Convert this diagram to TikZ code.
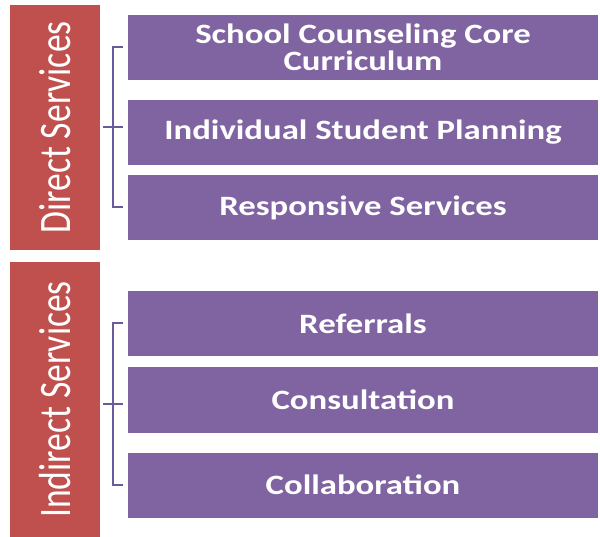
\documentclass[tikz,border=0pt]{standalone}
\usepackage{fontspec}
\usetikzlibrary{positioning}
\usetikzlibrary{calc}
\newfontfamily\boxfont{Carlito}[FakeStretch=1.24]
\newfontfamily\sidefont{Carlito}[FakeStretch=0.79]
\definecolor{sideRed}{HTML}{C0504D}
\definecolor{boxPurple}{HTML}{8064A2}
\definecolor{braceLine}{HTML}{6A5A9C}
\tikzstyle{sidebar}=[rectangle,fill=sideRed,minimum height=90pt,inner sep=0pt,rotate=90,text=white,font=\sidefont\fontsize{45}{45}\selectfont]
\tikzstyle{service}=[rectangle,fill=boxPurple,minimum width=470pt,minimum height=65pt,inner sep=0pt,text=white,align=center,font=\boxfont\bfseries\fontsize{28}{27}\selectfont]
\tikzstyle{bracket}=[draw=braceLine,line width=2pt]

\begin{document}
\begin{tikzpicture}[x=1pt,y=-1pt]
    \useasboundingbox (0,0) rectangle (600,537);

    % the two red side bars
    \node[sidebar,minimum width=245pt] (direct) at (55,127.5) {Direct Services};
    \node[sidebar,minimum width=275pt] (indirect) at (55,399.5) {Indirect Services};

    % the purple service boxes
    \foreach \pos/\name/\label in {{(363,47.5)/core/{School Counseling Core\\Curriculum}}, {(363,132.5)/plan/Individual Student Planning}, {(363,207.5)/resp/Responsive Services}, {(363,323.5)/refer/Referrals}, {(363,400)/consult/Consultation}, {(363,485)/collab/Collaboration}}
        \node[service] (\name) at \pos {\label};

    % brackets joining each group
    \foreach \first/\last in {core/resp, refer/collab}
    {
        \path[bracket] ([xshift=-5pt]\first.west) -- ([xshift=-15pt]\first.west) |- ([xshift=-5pt]\last.west);
        \coordinate (mid-\first) at ($([xshift=-5pt]\first.west)!0.5!([xshift=-5pt]\last.west)$);
        \path[bracket] (mid-\first) -- ++(-20,0);
    }
\end{tikzpicture}
\end{document}
